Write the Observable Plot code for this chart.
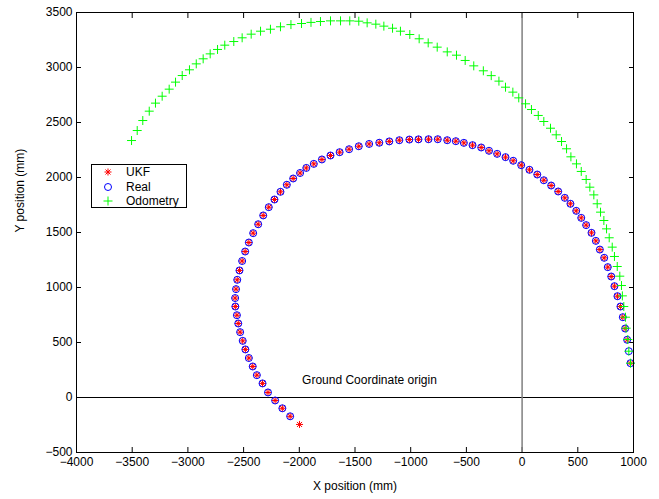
<!DOCTYPE html>
<html><head><meta charset="utf-8">
<script src="https://cdn.jsdelivr.net/npm/d3@7"></script>
<script src="https://cdn.jsdelivr.net/npm/@observablehq/plot@0.6"></script>
<style>
html,body{margin:0;padding:0;background:#fff;}
#wrap{position:relative;width:659px;height:499px;font-family:"Liberation Sans",Arial,Helvetica,sans-serif;}
#legend{position:absolute;left:91px;top:164px;width:94px;height:42px;border:1px solid #000;background:#fff;font-size:12px;color:#000;}
#legend .row{position:absolute;left:0;height:14px;width:94px;}
#legend svg{position:absolute;left:11px;top:0;}
#legend span{position:absolute;left:34px;top:0;line-height:14px;}
</style>
</head><body>
<div id="wrap"></div>
<script>
const xTicks = [-4000, -3500, -3000, -2500, -2000, -1500, -1000, -500, 0, 500, 1000];
const yTicks = [-500, 0, 500, 1000, 1500, 2000, 2500, 3000, 3500];
const seriesNames = ["UKF", "Real", "Odometry"];

const realX = [973,958,943,925,904,883,856,829,800,769,737,698,662,623,575,531,486,434,383,324,261,195,136,66,-8,-80,-149,-224,-297,-367,-445,-523,-595,-672,-757,-840,-930,-1012,-1102,-1192,-1282,-1373,-1466,-1553,-1638,-1720,-1797,-1870,-1937,-1993,-2055,-2112,-2169,-2223,-2274,-2324,-2369,-2414,-2453,-2486,-2513,-2537,-2557,-2568,-2576,-2574,-2560,-2548,-2531,-2508,-2484,-2453,-2418,-2381,-2330,-2281,-2217,-2152,-2082];
const realY = [312,421,525,627,730,827,921,1012,1100,1185,1270,1345,1424,1497,1567,1633,1697,1761,1815,1873,1927,1975,2027,2070,2112,2152,2185,2215,2243,2273,2294,2315,2330,2339,2348,2348,2347,2345,2339,2328,2316,2305,2284,2257,2230,2200,2164,2124,2087,2041,1991,1934,1870,1800,1730,1655,1575,1494,1409,1327,1241,1155,1070,985,904,827,748,673,594,515,437,359,282,203,128,46,-27,-98,-171];

const ukfX = [973,943,925,904,883,856,829,800,769,737,698,662,623,575,531,486,434,383,324,261,195,136,66,-8,-80,-149,-224,-297,-367,-445,-523,-595,-672,-757,-840,-930,-1012,-1102,-1192,-1282,-1373,-1466,-1553,-1638,-1720,-1797,-1870,-1937,-1993,-2055,-2112,-2169,-2223,-2274,-2324,-2369,-2414,-2453,-2486,-2513,-2537,-2557,-2568,-2576,-2574,-2560,-2548,-2531,-2508,-2484,-2453,-2418,-2381,-2330,-2281,-2217,-2152,-2082,-1998];
const ukfY = [312,525,627,730,827,921,1012,1100,1185,1270,1345,1424,1497,1567,1633,1697,1761,1815,1873,1927,1975,2027,2070,2112,2152,2185,2215,2243,2273,2294,2315,2330,2339,2348,2348,2347,2345,2339,2328,2316,2305,2284,2257,2230,2200,2164,2124,2087,2041,1991,1934,1870,1800,1730,1655,1575,1494,1409,1327,1241,1155,1070,985,904,827,748,673,594,515,437,359,282,203,128,46,-27,-98,-171,-245];

const odoX = [973,958,949,934,928,913,900,892,877,854,829,809,782,758,734,704,674,644,608,575,531,488,438,399,354,306,255,195,145,84,31,-30,-83,-149,-208,-277,-348,-434,-511,-589,-672,-762,-843,-924,-1008,-1092,-1163,-1241,-1313,-1391,-1466,-1547,-1630,-1720,-1810,-1895,-1980,-2075,-2169,-2259,-2348,-2432,-2513,-2588,-2669,-2734,-2800,-2863,-2925,-2986,-3051,-3111,-3168,-3231,-3291,-3347,-3405,-3455,-3506];
const odoY = [312,421,527,630,730,827,924,1018,1103,1191,1282,1367,1452,1533,1609,1685,1761,1842,1912,1982,2055,2124,2188,2261,2327,2388,2448,2509,2564,2618,2670,2724,2776,2821,2876,2926,2970,3015,3064,3112,3142,3185,3224,3261,3300,3330,3357,3376,3394,3406,3421,3424,3424,3424,3418,3410,3400,3390,3370,3348,3330,3303,3270,3236,3203,3164,3124,3079,3033,2979,2927,2867,2803,2739,2676,2603,2518,2427,2336];

const noteText = ["Ground Coordinate origin"];
const noteX = [-1975];
const noteY = [155];

const zip = (xs, ys) => xs.map((x, i) => ({x, y: ys[i]}));
const ukf = zip(ukfX, ukfY);
const real = zip(realX, realY);
const odo = zip(odoX, odoY);
const notes = noteText.map((t, i) => ({t, x: noteX[i], y: noteY[i]}));
const fmt = d => d < 0 ? "\u2212" + Math.abs(d) : String(d);
const blank = () => "";
const FONT = '"Liberation Sans", Arial, Helvetica, sans-serif';

const chart = Plot.plot({
  width: 659, height: 499,
  marginLeft: 76, marginRight: 26, marginTop: 12, marginBottom: 47,
  style: {fontFamily: FONT, fontSize: "12px", background: "white", color: "black", overflow: "visible"},
  x: {domain: [-4000, 1000]},
  y: {domain: [-500, 3500]},
  marks: [
    // inward tick marks on all four sides
    Plot.axisX(xTicks, {anchor: "bottom", tickSize: 5, dy: -5, tickFormat: blank, label: null}),
    Plot.axisX(xTicks, {anchor: "top", tickSize: 5, dy: 5, tickFormat: blank, label: null}),
    Plot.axisY(yTicks, {anchor: "left", tickSize: 5, dx: 5, tickFormat: blank, label: null}),
    Plot.axisY(yTicks, {anchor: "right", tickSize: 5, dx: -5, tickFormat: blank, label: null}),
    Plot.ruleY([0], {stroke: "#000", strokeWidth: 1}),
    Plot.ruleX([0], {stroke: "#808080", strokeWidth: 1.5}),
    Plot.text(notes, {x: "x", y: "y", text: "t", textAnchor: "start", fill: "#000", fontSize: 12}),
    Plot.dot(ukf, {x: "x", y: "y", symbol: "plus", r: 2.4, stroke: "#ff0000", strokeWidth: 1}),
    Plot.dot(ukf, {x: "x", y: "y", symbol: "times", r: 2.4, stroke: "#ff0000", strokeWidth: 1}),
    Plot.dot(real, {x: "x", y: "y", symbol: "circle", r: 3.5, stroke: "#0000ff", fill: "none", strokeWidth: 1}),
    Plot.dot(odo, {x: "x", y: "y", symbol: "plus", r: 3, stroke: "#00ff00", strokeWidth: 1}),
    // tick labels
    Plot.axisX(xTicks, {anchor: "bottom", tickSize: 0, tickPadding: 5, tickFormat: fmt, label: null, fontSize: 12}),
    Plot.axisY(yTicks, {anchor: "left", tickSize: 0, tickPadding: 4, tickFormat: fmt, label: null, fontSize: 12}),
    Plot.frame({stroke: "#000"}),
    Plot.text(["X position (mm)"], {frameAnchor: "bottom", dy: 37, text: d => d, fontSize: 12, fill: "#000"}),
    Plot.text(["Y position (mm)"], {frameAnchor: "left", dx: -56, rotate: -90, text: d => d, fontSize: 12, fill: "#000"})
  ]
});
const wrap = document.getElementById("wrap");
wrap.appendChild(chart);

// legend (HTML overlay)
const symbols = {
  "UKF": '<svg width="10" height="14"><g stroke="#ff0000" stroke-width="1"><line x1="5" y1="3.5" x2="5" y2="10.5"/><line x1="1.5" y1="7" x2="8.5" y2="7"/><line x1="2.5" y1="4.5" x2="7.5" y2="9.5"/><line x1="2.5" y1="9.5" x2="7.5" y2="4.5"/></g></svg>',
  "Real": '<svg width="10" height="14"><circle cx="5" cy="7" r="3.5" fill="none" stroke="#0000ff" stroke-width="1"/></svg>',
  "Odometry": '<svg width="10" height="14"><g stroke="#00ff00" stroke-width="1"><line x1="5" y1="2.5" x2="5" y2="11.5"/><line x1="0.5" y1="7" x2="9.5" y2="7"/></g></svg>'
};
const legend = document.createElement("div");
legend.id = "legend";
seriesNames.forEach((name, i) => {
  const row = document.createElement("div");
  row.className = "row";
  row.style.top = (i * 14.5) + "px";
  row.innerHTML = symbols[name] + "<span>" + name + "</span>";
  legend.appendChild(row);
});
wrap.appendChild(legend);
</script>
</body></html>
